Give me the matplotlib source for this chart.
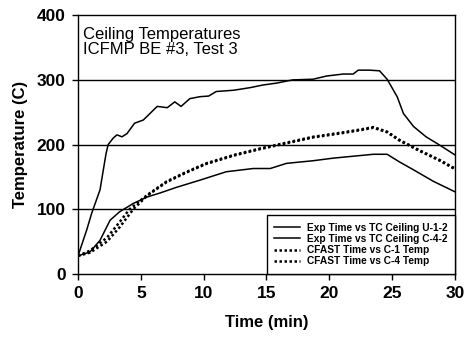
import matplotlib
matplotlib.use("Agg")
import matplotlib.pyplot as plt

plt.rcParams['font.family'] = ['Liberation Sans', 'DejaVu Sans']

u12_t = [0, 0.69, 1.09, 1.75, 2.23, 2.4, 2.8, 3.1, 3.5, 3.9, 4.5, 5.2, 6.3, 7.1, 7.7, 8.2, 8.9, 9.7, 10.4, 11.0, 12.4, 13.7, 14.7, 15.8, 17.1, 18.7, 19.8, 21.1, 21.9, 22.3, 23.2, 24.0, 24.6, 25.4, 25.9, 26.7, 27.7, 28.8, 30.0]
u12_T = [28, 68, 94, 130, 186, 200, 210, 215, 212, 217, 233, 238, 259, 257, 266, 259, 271, 274, 275, 282, 284, 288, 292, 295, 300, 301, 306, 309, 309, 315, 315, 314, 301, 274, 248, 228, 212, 199, 184]

c42_t = [0, 0.95, 1.75, 2.55, 3.3, 4.4, 5.5, 6.5, 7.85, 9.7, 11.8, 13.95, 15.3, 16.6, 18.7, 20.3, 21.9, 23.5, 24.6, 25.6, 26.7, 28.3, 30.0]
c42_T = [28, 34, 52, 83, 96, 109, 119, 125, 134, 145, 158, 163, 163, 171, 175, 179, 182, 185, 185, 173, 161, 143, 127]

cf1_t = [0, 0.95, 2.3, 3.3, 4.1, 5.5, 7.05, 8.65, 10.2, 12.4, 14.5, 16.6, 18.7, 20.8, 22.4, 23.5, 24.6, 25.6, 27.2, 28.8, 30.0]
cf1_T = [28, 36, 56, 80, 100, 122, 143, 158, 171, 184, 194, 203, 212, 218, 223, 227, 220, 207, 191, 176, 163]

cf4_t = [0, 0.95, 2.3, 3.3, 4.4, 5.5, 7.05, 8.65, 10.2, 12.4, 14.5, 16.6, 18.7, 20.8, 22.4, 23.5, 24.6, 25.6, 27.2, 28.8, 30.0]
cf4_T = [28, 33, 50, 72, 100, 121, 142, 157, 170, 183, 193, 202, 211, 217, 222, 226, 219, 206, 190, 175, 162]

labels = ["Exp Time vs TC Ceiling U-1-2", "Exp Time vs TC Ceiling C-4-2",
          "CFAST Time vs C-1 Temp", "CFAST Time vs C-4 Temp"]

fig = plt.figure(figsize=(4.7, 3.37), dpi=100)
ax = fig.add_axes([0.166, 0.187, 0.802, 0.768])

for y in [100, 200, 300]:
    ax.axhline(y, color='black', lw=1.0, zorder=1)

ax.plot(u12_t, u12_T, color='black', lw=1.1, label=labels[0], zorder=3)
ax.plot(c42_t, c42_T, color='black', lw=1.1, label=labels[1], zorder=3)
ax.plot(cf1_t, cf1_T, color='black', lw=1.8, ls=(0, (1, 1)), label=labels[2], zorder=3)
ax.plot(cf4_t, cf4_T, color='black', lw=1.8, ls=(0, (1, 1)), label=labels[3], zorder=3)

ax.set_xlim(0, 30)
ax.set_ylim(0, 400)
ax.set_xticks(range(0, 31, 5))
ax.set_yticks(range(0, 401, 100))
ax.tick_params(direction='out', length=4, width=1, labelsize=12.5, pad=5)
for lab in ax.get_xticklabels() + ax.get_yticklabels():
    lab.set_fontweight('bold')
for s in ax.spines.values():
    s.set_linewidth(1.0)

ax.set_xlabel("Time (min)", fontsize=12, fontweight='bold', labelpad=10)
ax.set_ylabel("Temperature (C)", fontsize=12, fontweight='bold', labelpad=6)

ax.text(0.012, 0.955, "Ceiling Temperatures\nICFMP BE #3, Test 3", transform=ax.transAxes,
        fontsize=12, va='top', ha='left', linespacing=1.05)

leg = ax.legend(loc='lower right', bbox_to_anchor=(1.0, 0.0),
                frameon=True, fancybox=False, edgecolor='black', framealpha=1,
                borderpad=0.75, labelspacing=0.12, handlelength=2.5, handletextpad=0.7,
                borderaxespad=0, prop={'weight': 'bold', 'size': 7.3})
leg.get_frame().set_linewidth(1.0)
leg.set_zorder(5)

fig.savefig("out.png", dpi=100)
